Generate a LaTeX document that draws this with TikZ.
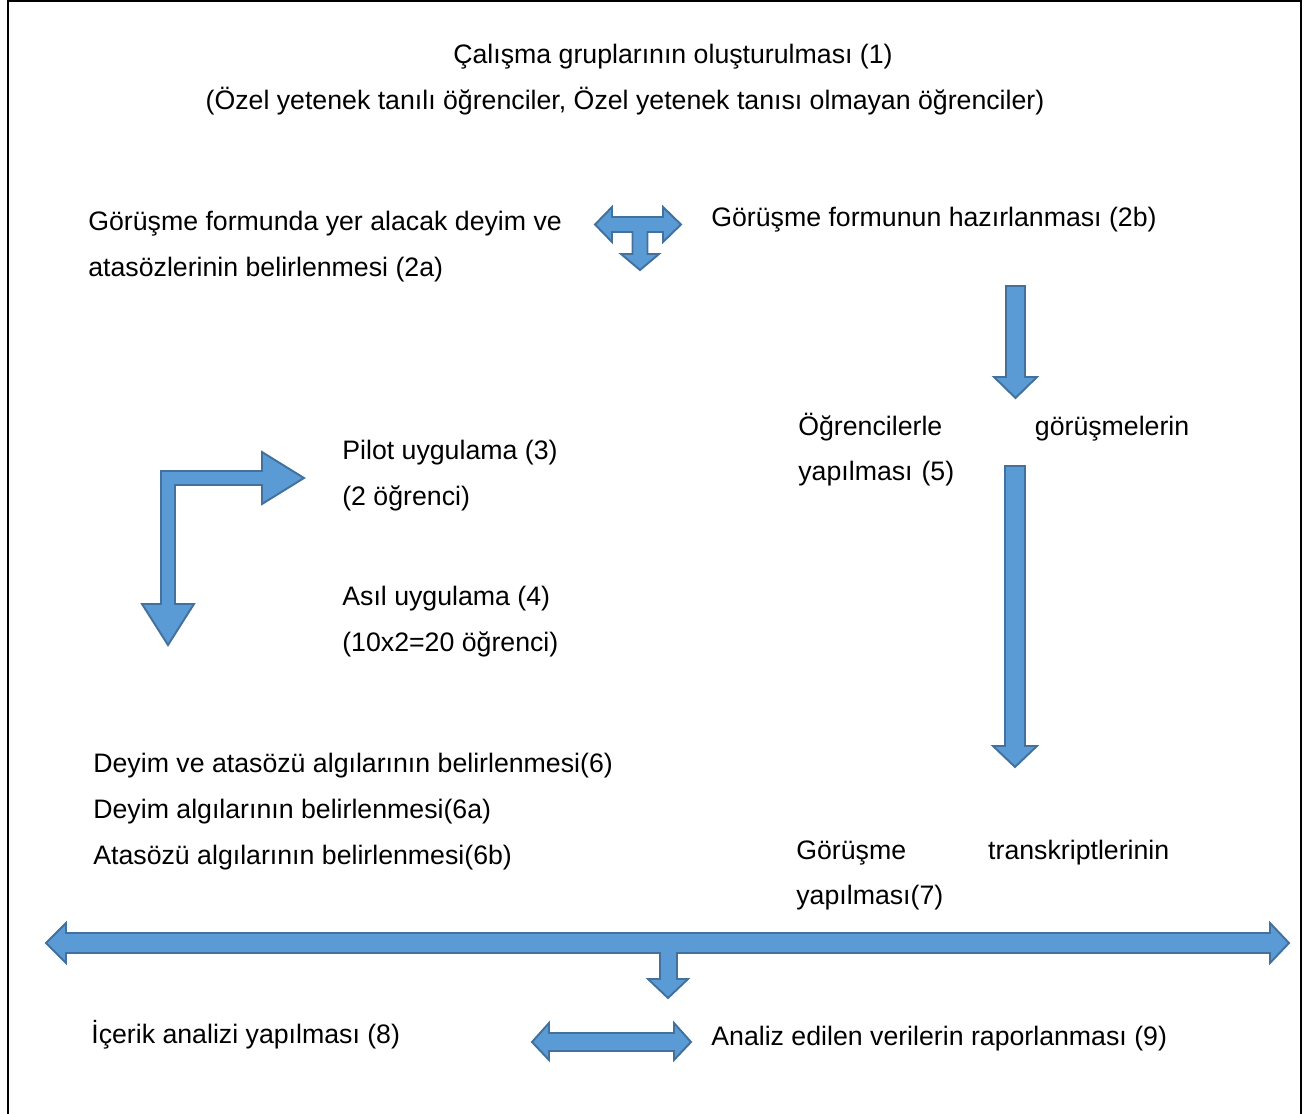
\documentclass[tikz,border=0pt]{standalone}
\usepackage{fontspec}
\setmainfont{Liberation Sans}
\usepackage{tikz}
\usetikzlibrary{positioning}

\definecolor{arrowfill}{HTML}{5B9BD5}
\definecolor{arrowline}{HTML}{41719C}

\begin{document}
\begin{tikzpicture}[x=0.02cm,y=-0.02cm]
    \tikzset{Txt/.style = {anchor=base west, inner sep=0pt,
        font  = \fontsize{15.2}{26.15}\selectfont,
        align = left},
      BlockArrow/.style = {fill=arrowfill, draw=arrowline,
        line width=1.1pt, line join=miter}}
    \useasboundingbox (0,0) rectangle (1309,1113);
    \draw[line width=1.6pt] (8,1) rectangle (1301,1150);
    % texts (base = last line)
    \node[Txt,anchor=base] (grp) at (673,63) {Çalışma gruplarının oluşturulması (1)};
    \node[Txt,anchor=base] (grpb) at (625,109) {(Özel yetenek tanılı öğrenciler, Özel yetenek tanısı olmayan öğrenciler)};
    \node[Txt] (deyim) at (88,276) {Görüşme formunda yer alacak deyim ve\\atasözlerinin belirlenmesi (2a)};
    \node[Txt] (form) at (711,226) {Görüşme formunun hazırlanması (2b)};
    \node[Txt,text width=7.82cm] (gorusme) at (798,435) {Öğrencilerle \hfill görüşmelerin\\yapılması (5)};
    \node[Txt] (pilot) at (342,505) {Pilot uygulama (3)\\(2 öğrenci)};
    \node[Txt] (asil) at (342,651) {Asıl uygulama (4)\\(10x2=20 öğrenci)};
    \node[Txt] (algi) at (93,864) {Deyim ve atasözü algılarının belirlenmesi(6)\\Deyim algılarının belirlenmesi(6a)\\Atasözü algılarının belirlenmesi(6b)};
    \node[Txt,text width=7.46cm] (trans) at (796,859) {Görüşme \hfill transkriptlerinin\\yapılması(7)};
    \node[Txt] (icerik) at (91,1043) {İçerik analizi yapılması (8)};
    \node[Txt] (rapor) at (711,1045) {Analiz edilen verilerin raporlanması (9)};
    % block arrows
    \draw[BlockArrow] (595,224.5) -- (612,207) -- (612,217) -- (663,217) -- (663,207) -- (681,224.5)
      -- (663,242) -- (663,232) -- (647.5,232) -- (647.5,254) -- (659,254) -- (640,270) -- (621,254)
      -- (632.5,254) -- (632.5,232) -- (612,232) -- (612,242) -- cycle;
    \draw[BlockArrow] (168,645) -- (194,604) -- (175,604) -- (175,485) -- (262,485) -- (262,504)
      -- (304,478) -- (262,452) -- (262,471) -- (161,471) -- (161,604) -- (142,604) -- cycle;
    \draw[BlockArrow] (1006,286) -- (1025,286) -- (1025,377) -- (1037,377) -- (1015.5,398)
      -- (994,377) -- (1006,377) -- cycle;
    \draw[BlockArrow] (1005,466) -- (1025,466) -- (1025,746) -- (1037,746) -- (1015,767)
      -- (993,746) -- (1005,746) -- cycle;
    \draw[BlockArrow] (46,943) -- (66,923) -- (66,933) -- (1270,933) -- (1270,923) -- (1289,943)
      -- (1270,963) -- (1270,953) -- (677,953) -- (677,979) -- (688,979) -- (668,998) -- (648,979)
      -- (660,979) -- (660,953) -- (66,953) -- (66,963) -- cycle;
    \draw[BlockArrow] (532,1042) -- (549,1023) -- (549,1033) -- (674,1033) -- (674,1023) -- (691,1042)
      -- (674,1060) -- (674,1051) -- (549,1051) -- (549,1060) -- cycle;
\end{tikzpicture}
\end{document}
